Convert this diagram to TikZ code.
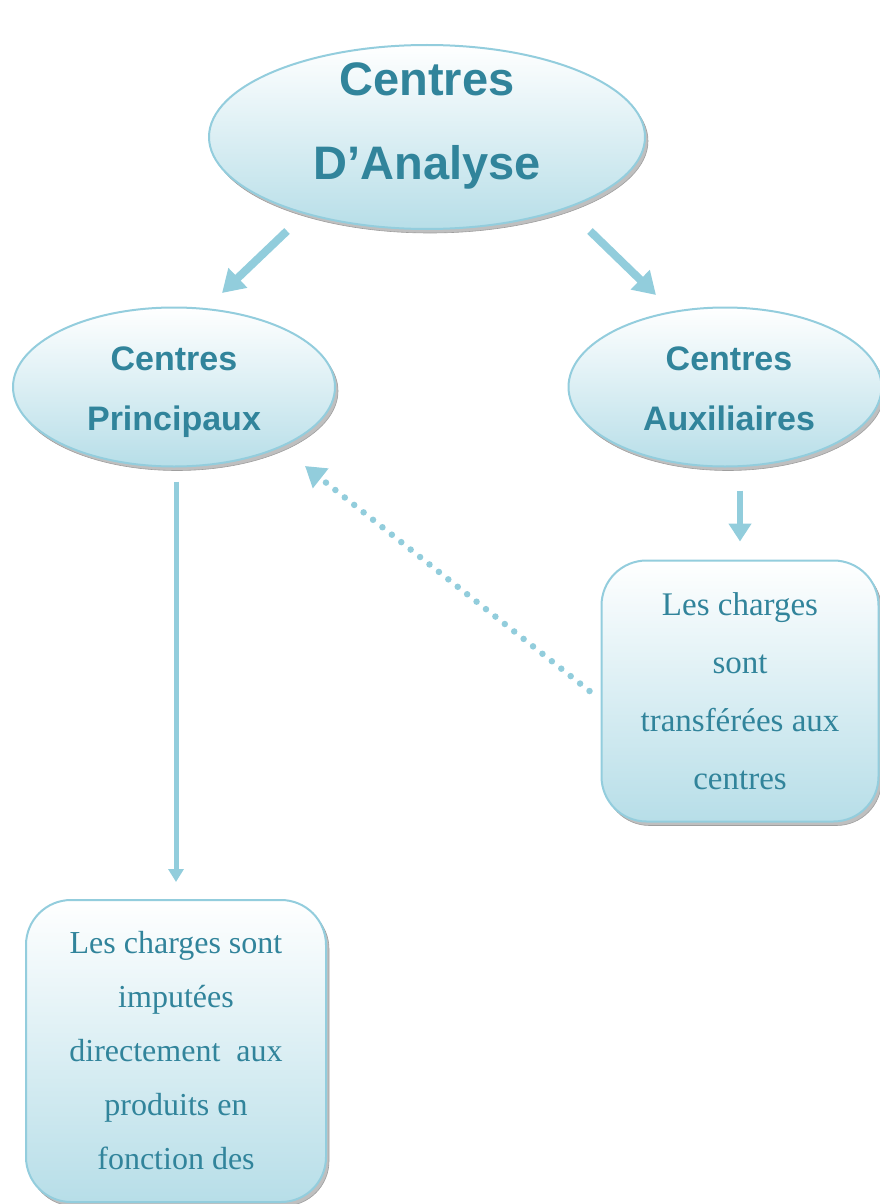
\documentclass[tikz,border=0pt]{standalone}
\usepackage{fontspec}
\setmainfont{Liberation Serif}
\newfontfamily\titlefont{Liberation Sans}
\usetikzlibrary{shapes.geometric,arrows.meta,positioning}
\definecolor{boxline}{HTML}{93CDDD}
\definecolor{boxfill}{HTML}{B7DEE8}
\definecolor{labeltext}{HTML}{31849B}
\definecolor{arrowblue}{HTML}{92CDDC}
\tikzset{>=stealth}
\tikzset{%
    flatshadow/.style={%
        preaction={fill=gray!50, draw=gray!75, line width=0.6pt,
            transform canvas={shift={(3pt,-4pt)}}}
    },
    centre/.style={%
        ellipse, draw=boxline, line width=2pt, flatshadow,
        top color=white, bottom color=boxfill
    },
    centretitle/.style={%
        text=labeltext, align=center,
        font=\titlefont\bfseries\fontsize{34}{60}\selectfont
    },
    chargebox/.style={%
        rectangle, rounded corners=45pt, draw=boxline, line width=2pt, flatshadow,
        top color=white, bottom color=boxfill,
        text=labeltext, align=center
    },
    fat/.style={arrowblue, line width=8pt, -{Triangle[width=26pt,length=22pt]}},
    midarrow/.style={arrowblue, line width=6pt, -{Triangle[width=22pt,length=18pt]}},
    leadline/.style={arrowblue, line width=5pt, -{Triangle[width=15pt,length=13pt]}},
    dotlink/.style={arrowblue, line width=6.5pt, line cap=round,
        dash pattern=on 0pt off 12pt, -{Triangle[width=24pt,length=20pt]}}
}

\begin{document}
\begin{tikzpicture}[x=1pt,y=-1pt]
    \clip (0,0) rectangle (880,1204);
    % the three centres
    \node[centre, minimum width=436pt, minimum height=184pt] (analyse) at (427,137) {};
    \node[centretitle, font=\titlefont\bfseries\fontsize{47}{84}\selectfont]
        (analyseTitle) at (427,125.5) {Centres\\D’Analyse};
    \node[centre, minimum width=322pt, minimum height=159pt] (princ) at (174,387) {};
    \node[centretitle] (princTitle) at (174,392) {Centres\\Principaux};
    \node[centre, minimum width=313pt, minimum height=159pt] (aux) at (725,387) {};
    \node[centretitle] (auxTitle) at (729,389) {Centres\\Auxiliaires};
    % where the charges go
    \node[chargebox, minimum width=277pt, minimum height=261pt,
        font=\fontsize{33}{58}\selectfont] (transf) at (740,691)
        {Les charges\\sont\\transférées aux\\centres};
    \node[chargebox, minimum width=300pt, minimum height=302pt,
        font=\fontsize{32}{54}\selectfont] (impute) at (176,1051)
        {Les charges sont\\imputées\\directement~ aux\\produits en\\fonction des};
    % arrows
    \coordinate (fromL) at (287,231);
    \coordinate (toL) at (222,293);
    \coordinate (fromR) at (590,231);
    \coordinate (toR) at (656,295);
    \coordinate (back) at (305,466);
    \draw[fat] (fromL) -- (toL);
    \draw[fat] (fromR) -- (toR);
    \draw[leadline, shorten <=14pt, shorten >=17pt] (impute.north |- princ.south) -- (impute.north);
    \draw[midarrow, shorten <=23pt, shorten >=18pt] (transf.north |- aux.south) -- (transf.north);
    \draw[dotlink] ([xshift=-11pt]transf.west) -- (back);
\end{tikzpicture}
\end{document}
